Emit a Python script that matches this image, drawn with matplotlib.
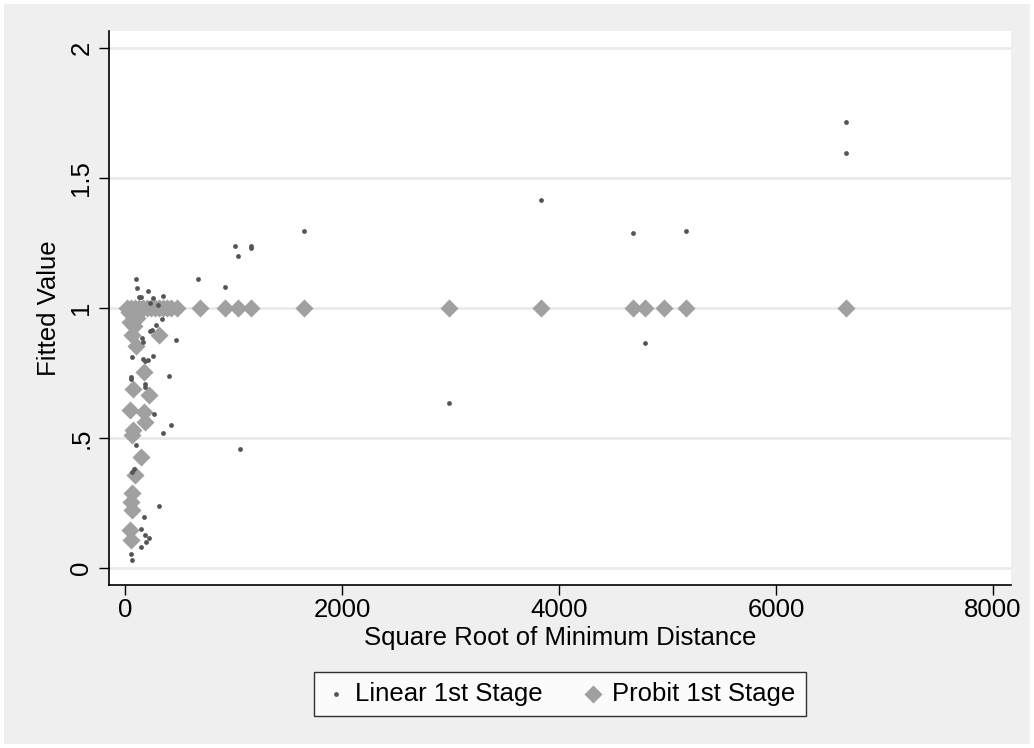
import numpy as np
import matplotlib.pyplot as plt
from matplotlib.patches import Rectangle

# linear 1st stage fitted values
lin_x = [101, 107, 209, 676, 922, 132, 145, 353, 255, 338, 283, 230, 245, 470, 154, 169,
         67, 169, 184, 215, 261, 409, 55, 52, 184, 184, 267, 421, 353, 101, 1060, 62, 80,
         316, 175, 145, 184, 221, 191, 147, 55, 67, 230, 300, 1017, 1038, 1164, 1164,
         1653, 2986, 3834, 4682, 4793, 5171, 6645, 6645]
lin_y = [1.109, 1.075, 1.066, 1.111, 1.079, 1.040, 1.040, 1.045, 1.039, 0.956, 0.934, 0.911,
         0.915, 0.876, 0.883, 0.870, 0.812, 0.803, 0.797, 0.799, 0.815, 0.739, 0.735, 0.725,
         0.707, 0.694, 0.591, 0.550, 0.518, 0.473, 0.456, 0.370, 0.379, 0.238, 0.195, 0.152,
         0.129, 0.117, 0.101, 0.080, 0.053, 0.031, 1.020, 1.010, 1.239, 1.200, 1.238, 1.230,
         1.296, 0.634, 1.415, 1.288, 0.865, 1.295, 1.714, 1.595]

# probit 1st stage fitted values
prob_x = [18, 55, 92, 129, 166, 203, 240, 276, 313, 350, 387, 424, 479,
          691, 922, 1041, 1161, 1650, 2986, 3834, 4682, 4793, 4968, 5171, 6645,
          40, 60, 90, 120, 150, 45, 62, 99, 316, 110, 80,
          178, 71, 218, 49, 172, 187, 71, 65, 150, 95, 65, 58, 65, 49, 58]
prob_y = [0.999, 1.0, 0.999, 1.0, 1.0, 1.0, 1.0, 1.0, 1.0, 1.0, 1.0, 1.0, 1.0,
          1.0, 1.0, 1.0, 1.0, 1.0, 1.0, 1.0, 1.0, 1.0, 1.0, 1.0, 1.0,
          0.985, 0.975, 0.98, 0.985, 0.99, 0.947, 0.895, 0.853, 0.895, 0.96, 0.93,
          0.754, 0.687, 0.665, 0.607, 0.601, 0.562, 0.530, 0.511, 0.428, 0.357, 0.287,
          0.255, 0.223, 0.146, 0.108]

yticks = [0, 0.5, 1, 1.5, 2]
ytick_labels = ['0', '.5', '1', '1.5', '2']
xticks = [0, 2000, 4000, 6000, 8000]

plt.rcParams['font.family'] = ['Liberation Sans', 'DejaVu Sans']
plt.rcParams['font.size'] = 18.5

fig = plt.figure(figsize=(10.34, 7.48), dpi=100, facecolor='white')
# grey graph region inside a thin white margin
fig.patches.append(Rectangle((4 / 1034, 4 / 748), 1 - 8 / 1034, 1 - 8 / 748,
                             transform=fig.transFigure, facecolor='#efefef',
                             edgecolor='none', zorder=-10))
ax = fig.add_axes([0.1051, 0.2179, 0.8724, 0.7407])
ax.set_facecolor('white')

ax.scatter(prob_x, prob_y, marker='D', s=85, color='#a0a0a0', linewidths=0,
           zorder=3, label='Probit 1st Stage')
ax.scatter(lin_x, lin_y, marker='o', s=12, color='#555555', linewidths=0,
           zorder=4, label='Linear 1st Stage')

ax.set_xlim(-150, 8163)
ax.set_ylim(-0.065, 2.064)
ax.set_xticks(xticks)
ax.set_yticks(yticks)
ax.set_yticklabels(ytick_labels, rotation=90, va='center')
ax.tick_params(direction='out', length=7, width=1, pad=2)
ax.tick_params(axis='y', pad=4)
ax.yaxis.grid(True, color='#eaeaea', linewidth=2)
ax.set_axisbelow(True)
for s in ['top', 'right']:
    ax.spines[s].set_visible(False)
for s in ['left', 'bottom']:
    ax.spines[s].set_linewidth(1.2)

ax.set_xlabel('Square Root of Minimum Distance', labelpad=3)
ax.set_ylabel('Fitted Value', labelpad=6)

h, l = ax.get_legend_handles_labels()
leg = fig.legend(h[::-1], l[::-1], loc='center', ncol=2,
                 bbox_to_anchor=(559.7 / 1034, 1 - 694 / 748),
                 frameon=True, fancybox=False, edgecolor='black',
                 handletextpad=0.3, columnspacing=1.5, borderpad=0.4,
                 borderaxespad=0, handlelength=0.9, scatterpoints=1)
leg.get_frame().set_linewidth(1.0)

fig.savefig('out.png', dpi=100, facecolor=fig.get_facecolor())
